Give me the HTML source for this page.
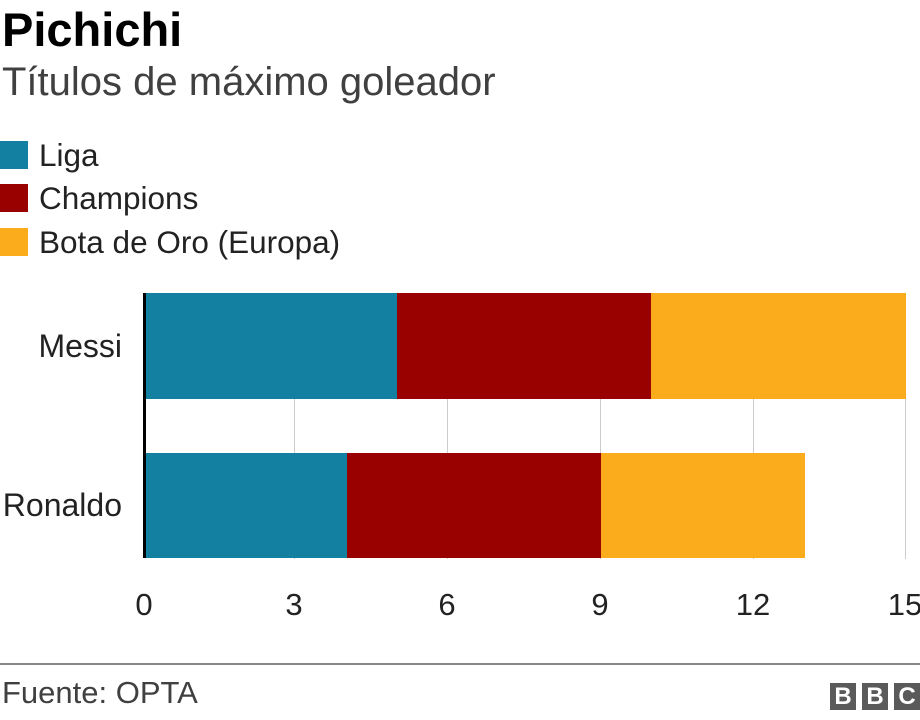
<!DOCTYPE html>
<html><head><meta charset="utf-8"><style>
body{margin:0;width:920px;height:720px;background:#fff;position:relative;overflow:hidden;font-family:"Liberation Sans",sans-serif;}
.a{position:absolute;white-space:nowrap;}
.sw{position:absolute;left:0;width:28px;height:28px;}
.lg{position:absolute;left:39px;font-size:31.5px;color:#222;white-space:nowrap;}
.tk{position:absolute;top:587px;font-size:31px;color:#222;width:60px;text-align:center;}
.g{position:absolute;top:399px;width:1px;height:160px;background:#ccc;}
.b{position:absolute;width:26px;height:27px;top:683px;background:#5a5a5a;color:#fff;font-size:24px;font-weight:bold;text-align:center;line-height:28px;}
</style></head><body>
<div class="a" style="left:2px;top:2px;font-size:47px;font-weight:bold;color:#000">Pichichi</div>
<div class="a" style="left:2px;top:60px;font-size:40px;color:#404040">Títulos de máximo goleador</div>
<div class="sw" style="top:141px;background:#1380a1"></div><div class="lg" style="top:137px">Liga</div>
<div class="sw" style="top:184px;background:#990000"></div><div class="lg" style="top:180px">Champions</div>
<div class="sw" style="top:228px;background:#fbac1c"></div><div class="lg" style="top:224px">Bota de Oro (Europa)</div>
<div class="g" style="left:294px"></div><div class="g" style="left:447px"></div><div class="g" style="left:600px"></div><div class="g" style="left:753px"></div><div class="g" style="left:905px"></div>
<div class="a" style="left:145px;top:293px;width:252px;height:106px;background:#1380a1"></div>
<div class="a" style="left:397px;top:293px;width:254px;height:106px;background:#990000"></div>
<div class="a" style="left:651px;top:293px;width:255px;height:106px;background:#fbac1c"></div>
<div class="a" style="left:145px;top:453px;width:202px;height:105px;background:#1380a1"></div>
<div class="a" style="left:347px;top:453px;width:254px;height:105px;background:#990000"></div>
<div class="a" style="left:601px;top:453px;width:204px;height:105px;background:#fbac1c"></div>
<div class="a" style="left:143px;top:293px;width:3px;height:265px;background:#000"></div>
<div class="a" style="left:0;width:122px;text-align:right;top:328px;font-size:32px;color:#222">Messi</div>
<div class="a" style="left:0;width:122px;text-align:right;top:487px;font-size:32px;color:#222">Ronaldo</div>
<div class="tk" style="left:114px">0</div><div class="tk" style="left:264px">3</div><div class="tk" style="left:417px">6</div><div class="tk" style="left:570px">9</div><div class="tk" style="left:723px">12</div><div class="tk" style="left:875px">15</div>
<div class="a" style="left:0;top:663px;width:920px;height:2px;background:#888"></div>
<div class="a" style="left:2px;top:675px;font-size:31px;color:#404040">Fuente: OPTA</div>
<div class="b" style="left:830px">B</div><div class="b" style="left:862px">B</div><div class="b" style="left:894px">C</div>
</body></html>
